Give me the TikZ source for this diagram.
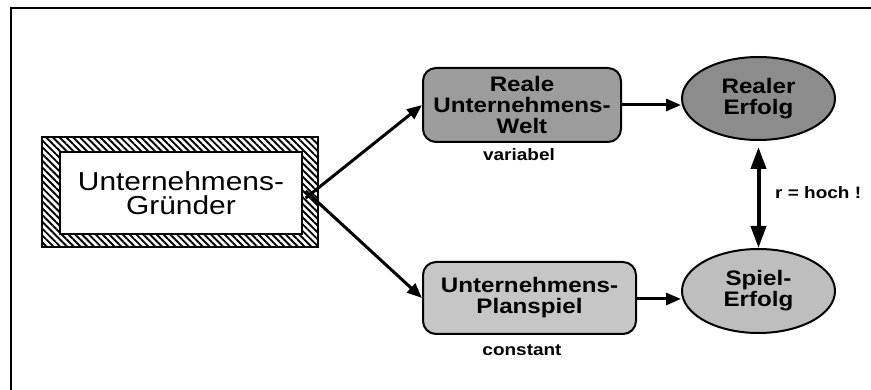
\documentclass[tikz,border=0pt]{standalone}
\usepackage{fontspec}
\setmainfont{Liberation Sans}[FakeStretch=1.15]
\usetikzlibrary{shapes.geometric,arrows.meta,patterns.meta}
\definecolor{darkbox}{HTML}{9C9C9C}
\definecolor{darkell}{HTML}{8C8C8C}
\definecolor{lightbox}{HTML}{C6C6C6}
\definecolor{lightell}{HTML}{BEBEBE}
\tikzset{
  boxtxt/.style={font=\bfseries\fontsize{21}{21}\selectfont, align=center, inner sep=0pt},
  roundbox/.style={boxtxt, draw=black, line width=2pt, rounded corners=13pt},
  ellbox/.style={boxtxt, draw=black, line width=2pt, ellipse},
  conn/.style={line width=3pt, -{Triangle[length=15pt,width=12pt]}},
  dconn/.style={line width=4pt, {Triangle[length=22pt,width=15pt]}-{Triangle[length=22pt,width=15pt]}},
  smalllab/.style={font=\bfseries\fontsize{16.5}{16.5}\selectfont, inner sep=0pt},
  hatchbox/.style={draw=black, line width=1.5pt, pattern={Lines[angle=-45,distance=4.8pt,line width=1.9pt]}},
}
\begin{document}
\begin{tikzpicture}[x=1pt,y=-1pt]
\useasboundingbox (0,0) rectangle (871,390);
% frame (top and left edges)
\coordinate (fa) at (871,8);
\coordinate (fb) at (11,8);
\coordinate (fc) at (11,390);
\draw[line width=2pt] (fa) -- (fb) -- (fc);
% founder box
\node[hatchbox, minimum width=276pt, minimum height=110pt, inner sep=0pt] (go) at (180,192) {};
\node[draw=black, line width=1.5pt, fill=white, minimum width=242pt, minimum height=82pt, inner sep=0pt,
      align=center, font=\fontsize{26}{24}\selectfont] (gi) at (181,193) {Unternehmens-\\Gründer};
% boxes
\node[roundbox, fill=darkbox, minimum width=198pt, minimum height=74pt] (reale) at (522,105) {Reale\\Unternehmens-\\Welt};
\node[roundbox, fill=lightbox, minimum width=213pt, minimum height=72pt] (plan) at (529.5,298) {Unternehmens-\\Planspiel};
\node[ellbox, fill=darkell, minimum width=153pt, minimum height=83pt] (rerf) at (758.5,98.5) {Realer\\Erfolg};
\node[ellbox, fill=lightell, minimum width=153pt, minimum height=84pt] (serf) at (758.5,291) {Spiel-\\Erfolg};
% labels
\node[smalllab] (var) at (519,155) {variabel};
\node[smalllab] (con) at (522,350) {constant};
\node[smalllab, anchor=west] (r) at (775,193) {r = hoch !};
% connectors
\draw[conn] ([xshift=3pt,yshift=-5pt]gi.east) -- (reale.west);
\draw[conn] ([xshift=3pt,yshift=2pt]gi.east) -- (plan.west);
\draw[conn] (reale.east) -- (reale.east -| rerf.west);
\draw[conn] ([yshift=-1pt]plan.east) -- ([yshift=-1pt]plan.east -| serf.west);
\draw[dconn, shorten <=6pt] (rerf.south) -- (serf.north);
\end{tikzpicture}
\end{document}
